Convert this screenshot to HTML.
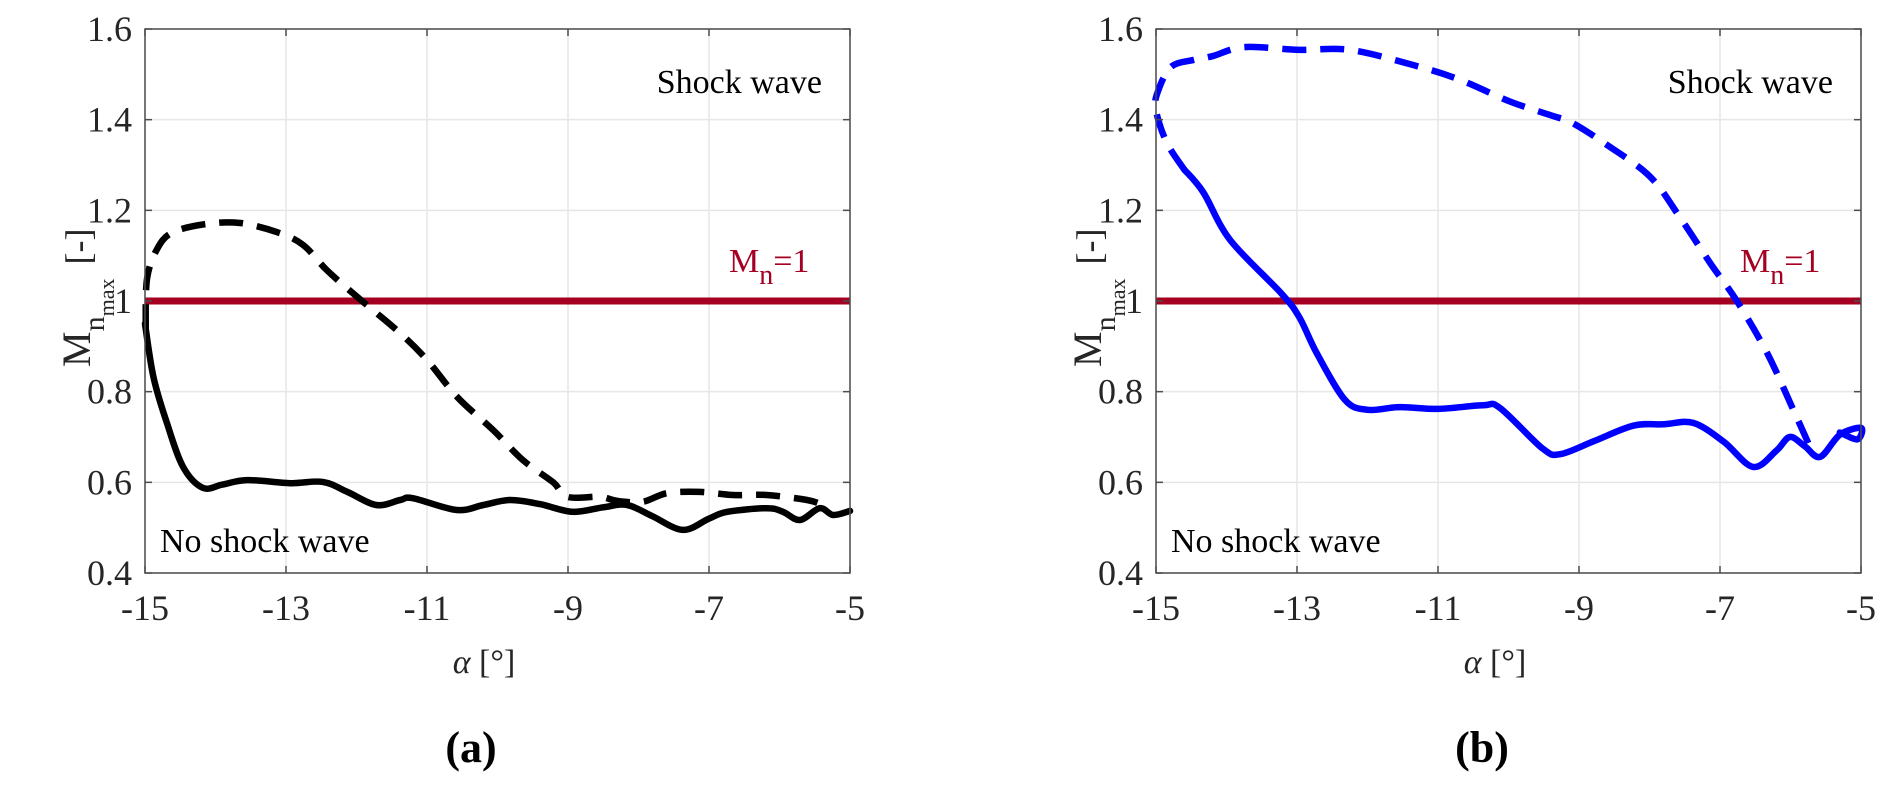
<!DOCTYPE html>
<html><head><meta charset="utf-8">
<style>
html,body{margin:0;padding:0;background:#fff;}
svg{display:block;font-family:"Liberation Serif",serif;}
</style></head>
<body>
<svg id="fig" width="1892" height="789" viewBox="0 0 1892 789" xmlns="http://www.w3.org/2000/svg"></svg>
<script>
const xTicks = [-15, -13, -11, -9, -7, -5];
const yTicks = [0.4, 0.6, 0.8, 1, 1.2, 1.4, 1.6];
const yTickLabels = ["0.4", "0.6", "0.8", "1", "1.2", "1.4", "1.6"];
const thresholdValue = 1;

const aSolidX = [-15, -14.88, -14.69, -14.46, -14.18, -13.9, -13.55, -12.94, -12.48, -12.13, -11.72, -11.38, -11.2, -10.58, -10.2, -9.82, -9.4, -8.93, -8.5, -8.16, -7.8, -7.37, -7.0, -6.74, -6.18, -5.95, -5.71, -5.43, -5.24, -5.0];
const aSolidY = [0.95, 0.832, 0.731, 0.634, 0.588, 0.595, 0.605, 0.598, 0.601, 0.579, 0.55, 0.561, 0.565, 0.539, 0.55, 0.561, 0.552, 0.535, 0.545, 0.55, 0.525, 0.495, 0.52, 0.535, 0.543, 0.535, 0.517, 0.543, 0.528, 0.537];
const aDashX = [-14.99, -14.97, -14.82, -14.6, -14.12, -13.65, -13.13, -12.76, -12.42, -11.99, -11.38, -11.0, -10.57, -10.06, -9.64, -9.21, -9.01, -8.55, -8.3, -7.94, -7.6, -7.13, -6.66, -6.18, -5.61, -5.38];
const aDashY = [0.94, 1.05, 1.117, 1.152, 1.17, 1.172, 1.152, 1.124, 1.068, 1.009, 0.929, 0.87, 0.788, 0.715, 0.649, 0.6, 0.568, 0.568, 0.559, 0.557, 0.576, 0.579, 0.572, 0.572, 0.561, 0.55];

const bSolidX = [-14.6, -14.33, -13.95, -13.23, -12.97, -12.72, -12.32, -12.0, -11.54, -11.0, -10.36, -10.12, -9.52, -9.27, -8.8, -8.23, -7.8, -7.38, -6.95, -6.53, -6.2, -6.01, -5.8, -5.58, -5.3, -5.0, -5.05, -5.3];
const bSolidY = [1.29, 1.24, 1.135, 1.018, 0.965, 0.885, 0.782, 0.76, 0.766, 0.762, 0.77, 0.764, 0.675, 0.662, 0.69, 0.725, 0.728, 0.731, 0.69, 0.634, 0.67, 0.70, 0.68, 0.656, 0.705, 0.72, 0.695, 0.71];
const bDashX = [-14.6, -14.85, -15.0, -14.98, -14.79, -14.46, -14.2, -13.75, -12.97, -12.25, -11.34, -10.69, -9.98, -9.41, -9.1, -8.6, -7.99, -7.57, -7.14, -6.76, -6.33, -5.96, -5.7];
const bDashY = [1.29, 1.35, 1.42, 1.459, 1.516, 1.532, 1.54, 1.56, 1.554, 1.554, 1.52, 1.488, 1.44, 1.41, 1.393, 1.344, 1.274, 1.185, 1.084, 1.0, 0.885, 0.76, 0.67];

const NS = "http://www.w3.org/2000/svg";
const svg = document.getElementById("fig");
function mk(tag, attrs, parent){const e=document.createElementNS(NS,tag);for(const k in attrs)e.setAttribute(k,attrs[k]);(parent||svg).appendChild(e);return e;}
function smooth(p){
  let d="M"+p[0][0].toFixed(1)+","+p[0][1].toFixed(1);
  for(let i=0;i<p.length-1;i++){
    const p0=p[Math.max(0,i-1)],p1=p[i],p2=p[i+1],p3=p[Math.min(p.length-1,i+2)];
    const c1=[p1[0]+(p2[0]-p0[0])/6,p1[1]+(p2[1]-p0[1])/6];
    const c2=[p2[0]-(p3[0]-p1[0])/6,p2[1]-(p3[1]-p1[1])/6];
    d+=" C"+c1[0].toFixed(1)+","+c1[1].toFixed(1)+" "+c2[0].toFixed(1)+","+c2[1].toFixed(1)+" "+p2[0].toFixed(1)+","+p2[1].toFixed(1);
  }
  return d;
}

function panel(ox, tag, sx, sy, dx, dy, color, label){
  const L=ox, R=ox+705, T=29, B=573;
  const X = v => L + (v - xTicks[0]) / (xTicks[xTicks.length-1]-xTicks[0]) * (R-L);
  const Y = v => B - (v - yTicks[0]) / (yTicks[yTicks.length-1]-yTicks[0]) * (B-T);
  const g = mk("g", {});
  
  
  xTicks.forEach(t=>{const l=mk("line",{x1:X(t),x2:X(t),y1:T,y2:B,stroke:"#e6e6e6","stroke-width":1.5},g);
    
    });
  yTicks.forEach(t=>{const l=mk("line",{x1:L,x2:R,y1:Y(t),y2:Y(t),stroke:"#e6e6e6","stroke-width":1.5},g);
    
    });
  const th=mk("line",{x1:L,x2:R,y1:Y(thresholdValue),y2:Y(thresholdValue),stroke:"#a50021","stroke-width":7},g);
  
  
  const pts=(xs,ys)=>xs.map((x,i)=>[X(x),Y(ys[i])]);
  const s=mk("path",{d:smooth(pts(sx,sy)),fill:"none",stroke:color,"stroke-width":6.5,"stroke-linejoin":"round","stroke-linecap":"round"},g);
  
  
  const d=mk("path",{d:smooth(pts(dx,dy)),fill:"none",stroke:color,"stroke-width":6.5,"stroke-dasharray":"24 14"},g);
  
  
  const box=mk("rect",{x:L,y:T,width:R-L,height:B-T,fill:"none",stroke:"#4d4d4d","stroke-width":1.5},g);
  
  
  xTicks.forEach(t=>{
    mk("line",{x1:X(t),x2:X(t),y1:B,y2:B-7,stroke:"#4d4d4d","stroke-width":1.5},g);
    mk("line",{x1:X(t),x2:X(t),y1:T,y2:T+7,stroke:"#4d4d4d","stroke-width":1.5},g);
    const tx=mk("text",{x:X(t),y:620,"text-anchor":"middle","font-size":36,fill:"#262626"},g);
    
    
    tx.textContent=String(t);
  });
  yTicks.forEach((t,i)=>{
    mk("line",{x1:L,x2:L+7,y1:Y(t),y2:Y(t),stroke:"#4d4d4d","stroke-width":1.5},g);
    mk("line",{x1:R,x2:R-7,y1:Y(t),y2:Y(t),stroke:"#4d4d4d","stroke-width":1.5},g);
    const tx=mk("text",{x:L-13,y:Y(t)+12,"text-anchor":"end","font-size":36,fill:"#262626"},g);
    
    
    tx.textContent=yTickLabels[i];
  });
  const sw=mk("text",{x:R-28,y:93,"text-anchor":"end","font-size":34,fill:"#000"},g);
  
  
  sw.textContent="Shock wave";
  const ns=mk("text",{x:L+15,y:552,"font-size":34,fill:"#000"},g);
  
  
  ns.textContent="No shock wave";
  const mn=mk("text",{x:R-121,y:272,"font-size":34,fill:"#a50021"},g);
  
  
  mn.innerHTML='M<tspan font-size="28" dy="12">n</tspan><tspan dy="-12">=1</tspan>';
  const xl=mk("text",{x:L+339,y:673,"text-anchor":"middle","font-size":34,fill:"#262626"},g);
  
  
  xl.innerHTML='<tspan font-style="italic">α</tspan> [°]';
  const yl=mk("text",{x:0,y:0,"font-size":40,fill:"#262626",transform:"translate("+(L-55)+",367) rotate(-90)","text-anchor":"start"},g);
  
  
  yl.innerHTML='M<tspan font-size="30" dy="14">n</tspan><tspan font-size="22" dy="10">max</tspan><tspan dx="14" font-size="36" dy="-24">[-]</tspan>';
  const pl=mk("text",{x:L+326,y:762,"text-anchor":"middle","font-size":44,"font-weight":"bold",fill:"#000"},g);
  
  
  pl.textContent=label;
}
panel(145,"a",aSolidX,aSolidY,aDashX,aDashY,"#000000","(a)");
panel(1156,"b",bSolidX,bSolidY,bDashX,bDashY,"#0000ff","(b)");
</script>
</body></html>
